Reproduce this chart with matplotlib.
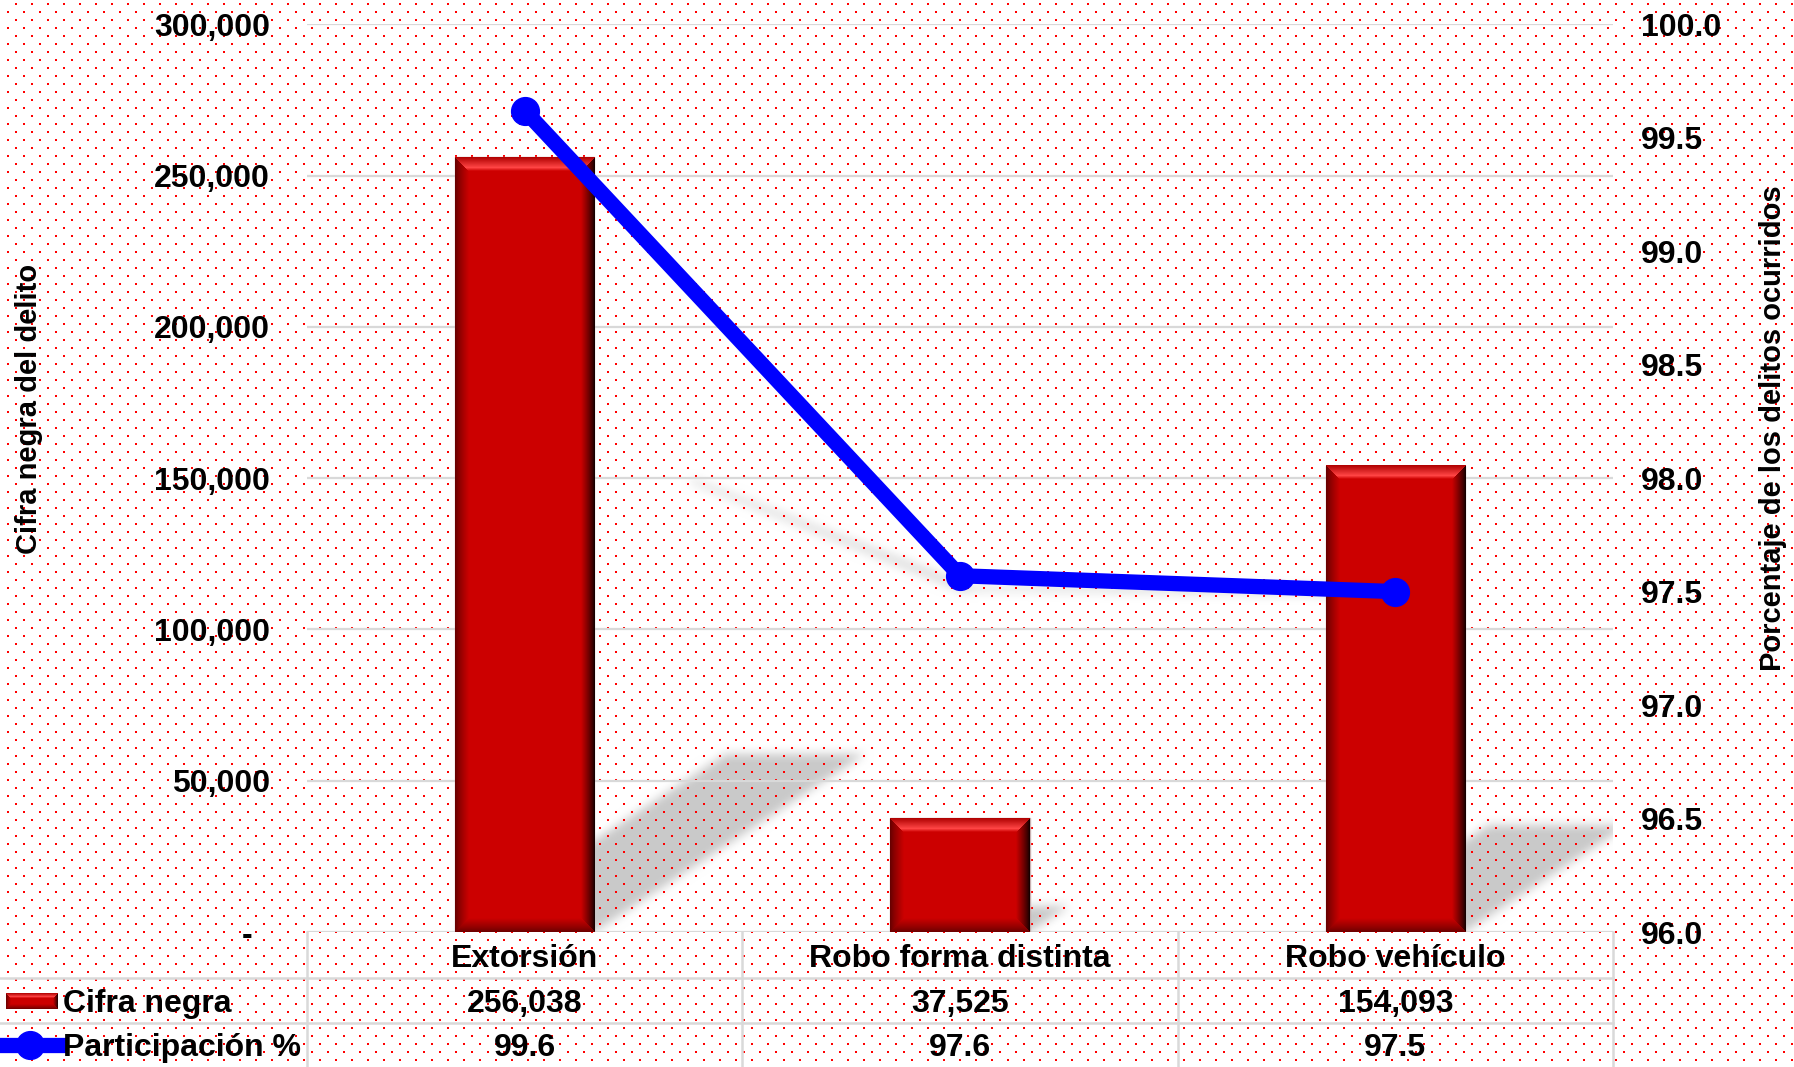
import numpy as np
import matplotlib
matplotlib.use("Agg")
import matplotlib.pyplot as plt
import matplotlib.transforms as mtransforms
from matplotlib.lines import Line2D
from matplotlib.ticker import FuncFormatter

categories = ["Extorsión", "Robo forma distinta", "Robo vehículo"]
cifra_negra = [256038, 37525, 154093]
participacion = [99.62, 97.57, 97.50]
left_ticks = [0, 50000, 100000, 150000, 200000, 250000, 300000]
right_ticks = [96.0, 96.5, 97.0, 97.5, 98.0, 98.5, 99.0, 99.5, 100.0]

W, H, DPI = 1794, 1067, 100
RED = "#CC0000"
BLUE = "#0000FF"
GRID = "#D9D9D9"

plt.rcParams["font.family"] = ["Liberation Sans", "DejaVu Sans"]
plt.rcParams["font.weight"] = "bold"
plt.rcParams["axes.labelweight"] = "bold"


def blur(a, r):
    """Box blur, two passes."""
    k = np.ones(2 * r + 1) / (2 * r + 1)
    for _ in range(2):
        a = np.apply_along_axis(lambda v: np.convolve(v, k, mode="same"), 0, a)
        a = np.apply_along_axis(lambda v: np.convolve(v, k, mode="same"), 1, a)
    return a


def bevel(w, h, b=14):
    """Red bar face with an Excel-like bevel."""
    cols, rows = np.meshgrid(np.arange(w) + 0.5, np.arange(h) + 0.5)
    d = np.stack([rows, h - rows, cols, w - cols])  # top, bottom, left, right
    side = d.argmin(0)
    t = np.clip(d.min(0) / b, 0, 1)[..., None]
    base = np.array([0.80, 0.0, 0.0])
    img = np.broadcast_to(base, (h, w, 3)).copy()
    for s, e in {1: [0.40, 0, 0], 2: [0.38, 0, 0], 3: [0.04, 0, 0]}.items():
        e = np.array(e)
        mix = e + (base - e) * t ** 0.8
        img[side == s] = mix[side == s]
    bright = np.array([1.0, 0.27, 0.27])
    rim = np.array([0.68, 0.0, 0.0])
    up = np.where(t < 0.75, rim + (bright - rim) * (t / 0.75),
                  bright + (base - bright) * ((t - 0.75) / 0.25))
    img[side == 0] = up[side == 0]
    return np.clip(img, 0, 1)


fig = plt.figure(figsize=(W / DPI, H / DPI), dpi=DPI, facecolor="white")
L, R, T, B = 307, 1613, 24.3, 932
ax = fig.add_axes([L / W, 1 - B / H, (R - L) / W, (B - T) / H])
ax.set_facecolor("none")

x = np.arange(len(categories))
bars = ax.bar(x, cifra_negra, width=0.32, color=RED, edgecolor="#C8B0B0",
              linewidth=1, zorder=2)
ax.set_xlim(-0.5, len(categories) - 0.5)
ax.set_ylim(0, 300000)
ax.set_yticks(left_ticks)
ax.yaxis.set_major_formatter(FuncFormatter(lambda v, p: "-  " if v == 0 else f"{v:,.0f}"))
ax.tick_params(axis="y", length=0, pad=26.5, labelsize=23)
ax.set_xticks([])
ax.grid(axis="y", color=GRID, linewidth=1.6)
ax.set_axisbelow(True)
for s in ax.spines.values():
    s.set_visible(False)
ax.set_ylabel("Cifra negra del delito", fontsize=21)
ax.yaxis.set_label_coords(-0.2129, 0.5762)
ax.yaxis.label.set_va("center")

# bevelled faces on top of the bars
for bar in bars:
    (x0, y0), (x1, y1) = ax.transData.transform(
        [(bar.get_x(), 0), (bar.get_x() + bar.get_width(), bar.get_height())])
    img = bevel(int(round(x1 - x0)), int(round(y1 - y0)))
    ax.imshow(img, extent=(bar.get_x(), bar.get_x() + bar.get_width(), 0, bar.get_height()),
              aspect="auto", zorder=2.5, interpolation="nearest")
ax.set_xlim(-0.5, len(categories) - 0.5)
ax.set_ylim(0, 300000)

ax2 = ax.twinx()
ax2.plot(x, participacion, color=BLUE, lw=11, marker="o", ms=20, mew=1, zorder=3)
ax2.set_ylim(96, 100)
ax2.set_yticks(right_ticks)
ax2.yaxis.set_major_formatter(FuncFormatter(lambda v, p: f"{v:.1f}"))
ax2.tick_params(axis="y", length=0, pad=20, labelsize=23)
for s in ax2.spines.values():
    s.set_visible(False)
ax2.set_ylabel("Porcentaje de los delitos ocurridos", fontsize=21, rotation=90)
ax2.yaxis.set_label_coords(1.1222, 0.5553)
ax2.yaxis.label.set_va("center")

# background: perspective shadows + red dot pattern
rows, cols = np.mgrid[0:H, 0:W] + 0.5
ydisp = H - rows
shade = np.zeros((H, W))
for bar in bars:
    (x0, y0), (x1, y1) = ax.transData.transform(
        [(bar.get_x(), 0), (bar.get_x() + bar.get_width(), bar.get_height())])
    hh = y1 - y0
    bb = (ydisp - y0) / (0.23 * hh)
    aa = (cols - x0 - bb * 0.35 * hh) / (x1 - x0)
    shade[(aa >= 0) & (aa <= 1) & (bb >= 0) & (bb <= 1)] = 0.21

# the line casts its shadow relative to its own lowest point
pts = ax2.transData.transform(np.column_stack([x, participacion]))
floor = pts[:, 1].min()
lift = pts[:, 1] - floor
sh = np.column_stack([pts[:, 0] + 0.35 * lift, floor + 0.23 * lift])
for (ax_, ay_), (bx_, by_) in zip(sh[:-1], sh[1:]):
    vx, vy = bx_ - ax_, by_ - ay_
    tt = np.clip(((cols - ax_) * vx + (ydisp - ay_) * vy) / (vx * vx + vy * vy), 0, 1)
    dist = np.hypot(cols - ax_ - tt * vx, ydisp - ay_ - tt * vy)
    shade = np.maximum(shade, np.where(dist < 2.5 + 2.5 * tt, 0.13, 0))

shade = blur(shade, 5)
shade[(rows > B) | (cols < L) | (cols > R)] = 0
bg = np.repeat((1 - shade)[..., None], 3, axis=2)
for k, r in enumerate(range(3, H, 8)):
    c0 = 15 if k % 2 == 0 else 7
    bg[r:r + 2, c0::16] = [1, 0, 0]
    bg[r:r + 2, c0 + 1::16] = [1, 0, 0]
fig.figimage(bg, xo=0, yo=0, origin="upper", zorder=-10)

# data table under the chart
col_edges = ax.transData.transform([(e, 0) for e in np.arange(len(categories) + 1) - 0.5])[:, 0]
for r in (978, 1023):
    fig.add_artist(Line2D([0, R / W], [1 - r / H] * 2, color=GRID, lw=1.8))
for cx in col_edges:
    fig.add_artist(Line2D([cx / W] * 2, [1 - B / H, 0], color=GRID, lw=1.8))

blend = mtransforms.blended_transform_factory(ax.transData, fig.transFigure)
for i, cat in enumerate(categories):
    ax.text(i, 1 - 967 / H, cat, transform=blend, ha="center", va="baseline",
            fontsize=23, clip_on=False)
    ax.text(i, 1 - 1012 / H, f"{cifra_negra[i]:,}", transform=blend, ha="center",
            va="baseline", fontsize=23, clip_on=False)
    ax.text(i, 1 - 1056 / H, f"{participacion[i]:.1f}", transform=blend, ha="center",
            va="baseline", fontsize=23, clip_on=False)

fig.text(63 / W, 1 - 1012 / H, "Cifra negra", fontsize=23, va="baseline")
fig.text(63 / W, 1 - 1056 / H, "Participación %", fontsize=23, va="baseline")

axk = fig.add_axes([6 / W, 1 - 1009 / H, 51 / W, 16 / H])
axk.imshow(bevel(51, 16, b=5), aspect="auto", interpolation="nearest")
axk.axis("off")
fig.add_artist(Line2D([0, 58 / W], [1 - 1045 / H] * 2, color=BLUE, lw=11))
fig.add_artist(Line2D([30 / W], [1 - 1045 / H], marker="o", ms=20, mew=1, color=BLUE))

fig.savefig("out.png", dpi=DPI)
